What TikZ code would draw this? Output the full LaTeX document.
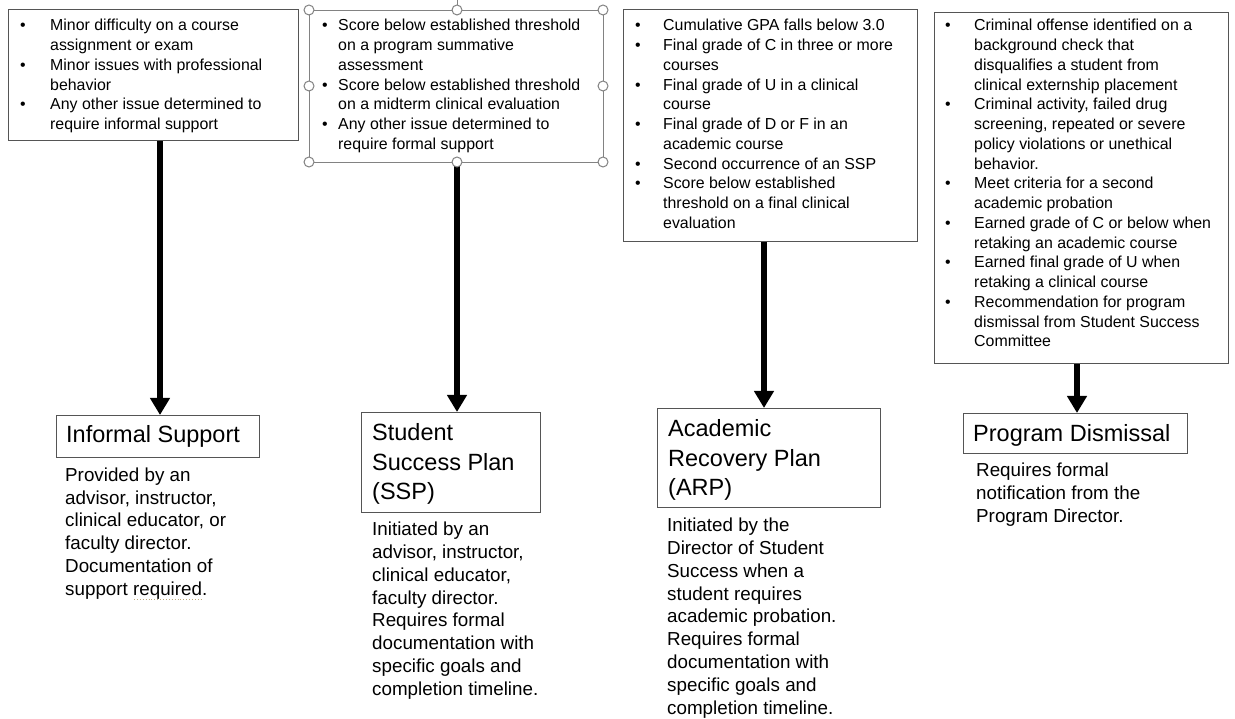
\documentclass[tikz,border=0pt]{standalone}
\usepackage{fontspec}
\setmainfont{Liberation Sans}
\usetikzlibrary{arrows.meta}
\newcommand{\mybul}[1]{\makebox[#1][l]{•}}
\newcommand{\myind}[1]{\makebox[#1]{}}
\definecolor{edge}{RGB}{85,85,85}
\definecolor{handle}{RGB}{130,130,130}
\definecolor{squig}{RGB}{190,170,125}
\begin{document}
\begin{tikzpicture}[x=1pt,y=-1pt,
  crit/.style={draw=edge, line width=1.1pt, inner sep=0pt, anchor=north west},
  critsel/.style={draw=handle, line width=1.1pt, inner sep=0pt, anchor=north west},
  tbox/.style={draw=edge, line width=1.1pt, inner sep=0pt, anchor=north west},
  body/.style={inner sep=0pt, anchor=north west, align=left, font=\fontsize{15.9}{19.75}\selectfont},
  desc/.style={inner sep=0pt, anchor=north west, align=left, font=\fontsize{18.8}{22.8}\selectfont},
  ttl/.style={inner sep=0pt, anchor=north west, align=left, font=\fontsize{23.5}{29.5}\selectfont},
  arr/.style={line width=6.5pt, -{Triangle[width=19pt,length=17pt]}},
  hnd/.style={draw=handle, fill=white, line width=1pt}
]
\useasboundingbox (0,0) rectangle (1235,719);

% criteria boxes
\node[crit, minimum width=290pt, minimum height=131pt] (b1) at (8,9) {};
\node[critsel, minimum width=294pt, minimum height=152pt] (b2) at (309,10) {};
\node[crit, minimum width=294pt, minimum height=232pt] (b3) at (623,9) {};
\node[crit, minimum width=294pt, minimum height=351pt] (b4) at (934,12) {};

\node[body] (t1) at (20,18.7) {\rule{0pt}{12pt}\mybul{30pt}Minor difficulty on a course\\\myind{30pt}assignment or exam\\\mybul{30pt}Minor issues with professional\\\myind{30pt}behavior\\\mybul{30pt}Any other issue determined to\\\myind{30pt}require informal support};

\node[body] (t2) at (322,18.7) {\rule{0pt}{12pt}\mybul{16pt}Score below established threshold\\\myind{16pt}on a program summative\\\myind{16pt}assessment\\\mybul{16pt}Score below established threshold\\\myind{16pt}on a midterm clinical evaluation\\\mybul{16pt}Any other issue determined to\\\myind{16pt}require formal support};

\node[body] (t3) at (635,18.7) {\rule{0pt}{12pt}\mybul{28pt}Cumulative GPA falls below 3.0\\\mybul{28pt}Final grade of C in three or more\\\myind{28pt}courses\\\mybul{28pt}Final grade of U in a clinical\\\myind{28pt}course\\\mybul{28pt}Final grade of D or F in an\\\myind{28pt}academic course\\\mybul{28pt}Second occurrence of an SSP\\\mybul{28pt}Score below established\\\myind{28pt}threshold on a final clinical\\\myind{28pt}evaluation};

\node[body] (t4) at (945,18.7) {\rule{0pt}{12pt}\mybul{29pt}Criminal offense identified on a\\\myind{29pt}background check that\\\myind{29pt}disqualifies a student from\\\myind{29pt}clinical externship placement\\\mybul{29pt}Criminal activity, failed drug\\\myind{29pt}screening, repeated or severe\\\myind{29pt}policy violations or unethical\\\myind{29pt}behavior.\\\mybul{29pt}Meet criteria for a second\\\myind{29pt}academic probation\\\mybul{29pt}Earned grade of C or below when\\\myind{29pt}retaking an academic course\\\mybul{29pt}Earned final grade of U when\\\myind{29pt}retaking a clinical course\\\mybul{29pt}Recommendation for program\\\myind{29pt}dismissal from Student Success\\\myind{29pt}Committee};

% outcome boxes
\node[tbox, minimum width=203pt, minimum height=42pt] (s1) at (56,415) {};
\node[tbox, minimum width=179pt, minimum height=100pt] (s2) at (361,412) {};
\node[tbox, minimum width=223pt, minimum height=99pt] (s3) at (657,408) {};
\node[tbox, minimum width=224pt, minimum height=40pt] (s4) at (963,413) {};

\node[ttl] (l1) at (66,424.5) {\rule{0pt}{18pt}Informal Support};
\node[ttl] (l2) at (372,422.5) {\rule{0pt}{18pt}Student\\Success Plan\\(SSP)};
\node[ttl] (l3) at (668,418.5) {\rule{0pt}{18pt}Academic\\Recovery Plan\\(ARP)};
\node[ttl] (l4) at (973,423.5) {\rule{0pt}{18pt}Program Dismissal};

% descriptions
\node[desc] (d1) at (65,467) {\rule{0pt}{14pt}Provided by an\\advisor, instructor,\\clinical educator, or\\faculty director.\\Documentation of\\support required.};
\node[desc] (d2) at (372,521.5) {\rule{0pt}{14pt}Initiated by an\\advisor, instructor,\\clinical educator,\\faculty director.\\Requires formal\\documentation with\\specific goals and\\completion timeline.};
\node[desc] (d3) at (667,517.5) {\rule{0pt}{14pt}Initiated by the\\Director of Student\\Success when a\\student requires\\academic probation.\\Requires formal\\documentation with\\specific goals and\\completion timeline.};
\node[desc] (d4) at (976,462.5) {\rule{0pt}{14pt}Requires formal\\notification from the\\Program Director.};

\draw[squig, dotted, line width=0.9pt] (134,599) -- (203,599);

% arrows
\coordinate (a1) at (160,0);
\coordinate (a2) at (457,0);
\coordinate (a3) at (764,0);
\coordinate (a4) at (1077,0);
\draw[arr] (b1.south -| a1) -- (s1.north -| a1);
\draw[arr] (b2.south -| a2) -- (s2.north -| a2);
\draw[arr] (b3.south -| a3) -- (s3.north -| a3);
\draw[arr] (b4.south -| a4) -- (s4.north -| a4);

% selection handles on the second box
\draw[handle, line width=1pt] (457,0) -- (457,5);
\foreach \hx/\hy in {309/10,457/10,603/10,309/86,603/86,309/162,457/162,603/162}
  \draw[hnd] (\hx,\hy) circle (5pt);
\end{tikzpicture}
\end{document}
